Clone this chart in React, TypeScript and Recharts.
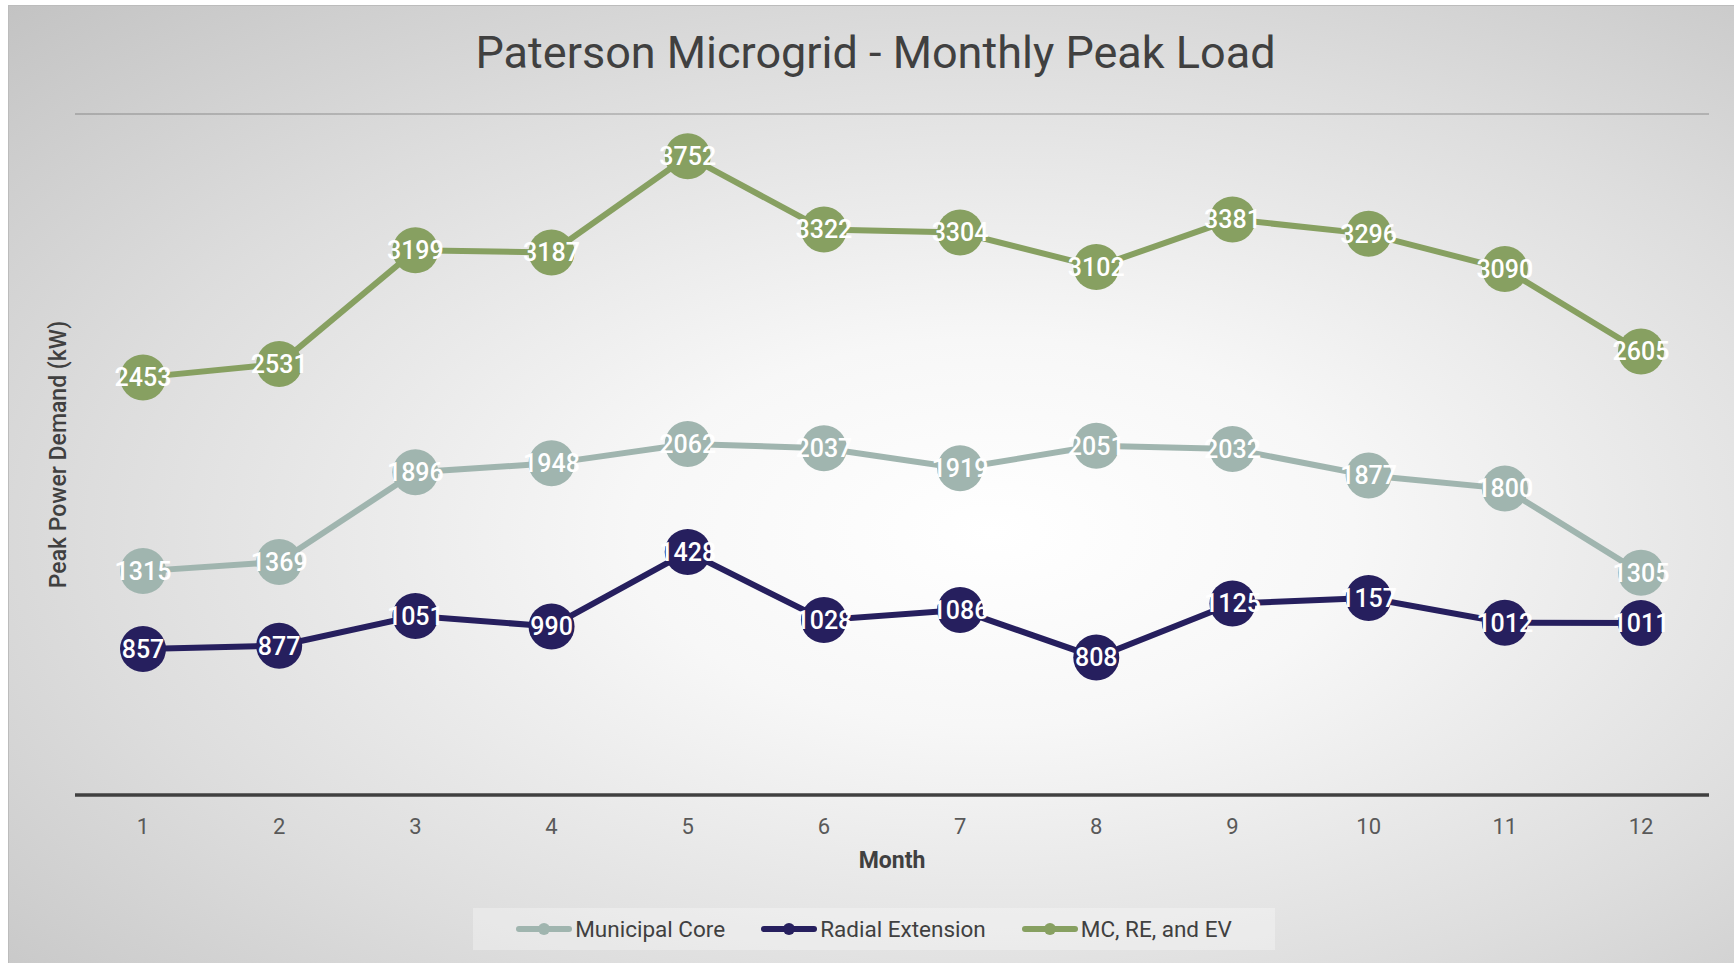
import { CartesianGrid, LabelList, Legend, Line, LineChart, XAxis, YAxis } from "recharts";

const months = ["1", "2", "3", "4", "5", "6", "7", "8", "9", "10", "11", "12"];
const municipalCore = [1315, 1369, 1896, 1948, 2062, 2037, 1919, 2051, 2032, 1877, 1800, 1305];
const radialExtension = [857, 877, 1051, 990, 1428, 1028, 1086, 808, 1125, 1157, 1012, 1011];
const mcReEv = [2453, 2531, 3199, 3187, 3752, 3322, 3304, 3102, 3381, 3296, 3090, 2605];
const yTicks = [0, 500, 1000, 1500, 2000, 2500, 3000, 3500, 4000];

const series = [
  { key: "core", name: "Municipal Core", color: "#a0b5af" },
  { key: "radial", name: "Radial Extension", color: "#261f5e" },
  { key: "total", name: "MC, RE, and EV", color: "#87a061" }
];

const FONT = "Roboto, 'Noto Sans', sans-serif";
const W = 1726;
const H = 958;

function LegendBox() {
  return (
    <div
      style={{
        display: "flex",
        justifyContent: "center",
        alignItems: "center",
        gap: 36,
        height: 42,
        background: "rgba(255,255,255,0.3)",
        fontFamily: FONT,
        fontSize: 22.5,
        color: "#404040"
      }}
    >
      {series.map((s) => (
        <div key={s.key} style={{ display: "flex", alignItems: "center" }}>
          <svg width={56} height={14} style={{ marginRight: 3 }}>
            <line x1={3} y1={7} x2={53} y2={7} stroke={s.color} strokeWidth={6} strokeLinecap="round" />
            <circle cx={28} cy={7} r={6} fill={s.color} />
          </svg>
          <span>{s.name}</span>
        </div>
      ))}
    </div>
  );
}

export default function App() {
  const data = months.map((m, i) => ({
    month: m,
    core: municipalCore[i],
    radial: radialExtension[i],
    total: mcReEv[i]
  }));

  return (
    <div
      style={{
        position: "absolute",
        left: 8,
        top: 5,
        width: W,
        height: H,
        borderTop: "1.5px solid #bcbcbc",
        borderLeft: "1.5px solid #bcbcbc",
        boxSizing: "border-box",
        background:
          "radial-gradient(ellipse farthest-corner at 57% 55%, #ffffff 0%, #f7f7f7 26%, #dddddd 65%, #c3c3c3 100%)",
        overflow: "hidden"
      }}
    >
      <div
        style={{
          position: "absolute",
          top: 22,
          left: 4,
          width: "100%",
          height: 50,
          lineHeight: "50px",
          textAlign: "center",
          fontFamily: FONT,
          fontSize: 45,
          color: "#404040",
          zIndex: 2
        }}
      >
        Paterson Microgrid - Monthly Peak Load
      </div>
      <LineChart width={W} height={H} data={data} margin={{ top: 108, right: 26, left: 0, bottom: 0 }}>
        <CartesianGrid vertical={false} stroke="rgba(0,0,0,0.22)" strokeWidth={1.5} />
        <XAxis
          dataKey="month"
          height={169}
          padding={{ left: 68, right: 68 }}
          tickLine={false}
          tickSize={0}
          tickMargin={23}
          axisLine={{ stroke: "#404040", strokeWidth: 3.5 }}
          tick={{ fill: "#595959", fontSize: 22, fontFamily: FONT }}
          label={{
            content: (props: any) => {
              const vb = props.viewBox || { x: 66, y: 789, width: 1634 };
              return (
                <text
                  x={vb.x + vb.width / 2}
                  y={vb.y + 73}
                  textAnchor="middle"
                  fill="#404040"
                  fontSize={23}
                  fontWeight={700}
                  fontFamily={FONT}
                >
                  Month
                </text>
              );
            }
          }}
        />
        <YAxis
          width={66}
          domain={[0, 4000]}
          ticks={yTicks}
          tick={false}
          tickLine={false}
          axisLine={false}
          label={{
            content: (props: any) => {
              const vb = props.viewBox || { y: 108, height: 681 };
              const cy = vb.y + vb.height / 2;
              return (
                <text
                  x={49}
                  y={cy}
                  transform={`rotate(-90, 49, ${cy})`}
                  textAnchor="middle"
                  dominantBaseline="central"
                  fill="#404040"
                  fontSize={23}
                  fontWeight={500}
                  fontFamily={FONT}
                >
                  Peak Power Demand (kW)
                </text>
              );
            }
          }}
        />
        <Legend
          verticalAlign="middle"
          layout="horizontal"
          wrapperStyle={{ top: 902, left: 464, width: 802, height: 42 }}
          content={() => <LegendBox />}
        />
        {series.map((s) => (
          <Line
            key={s.key}
            type="linear"
            dataKey={s.key}
            name={s.name}
            stroke={s.color}
            strokeWidth={6}
            dot={{ r: 23, fill: s.color, stroke: "none" }}
            activeDot={false}
            isAnimationActive={false}
          >
            <LabelList
              dataKey={s.key}
              position="center"
              fill="#ffffff"
              fontSize={25}
              fontWeight={500}
              fontFamily={FONT}
            />
          </Line>
        ))}
      </LineChart>
    </div>
  );
}
